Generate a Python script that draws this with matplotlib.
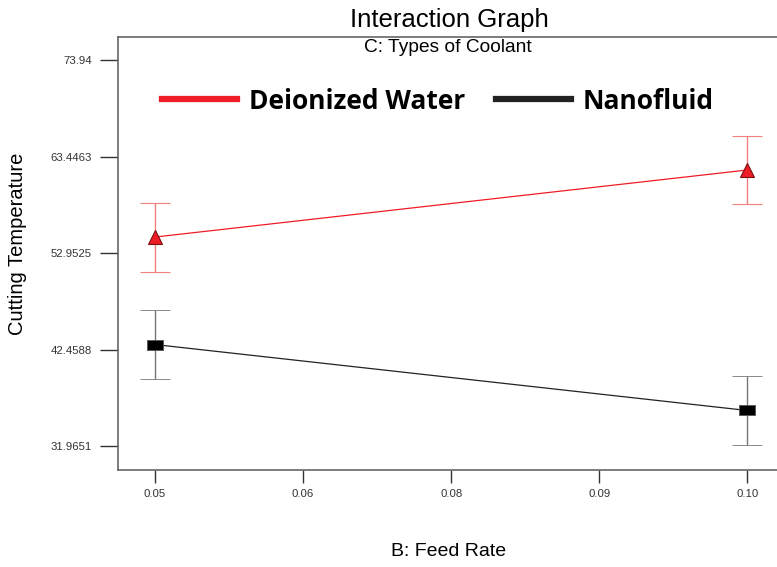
import numpy as np
import matplotlib.pyplot as plt
from matplotlib.lines import Line2D

# Feed rate levels (shown as evenly spaced categories on the axis)
feed_labels = ["0.05", "0.06", "0.08", "0.09", "0.10"]
yticks = [31.9651, 42.4588, 52.9525, 63.4463, 73.94]

# Interaction points (only the two end levels are plotted)
x_idx = [0, 4]
water_mean = [54.69, 61.98]
water_err = [3.75, 3.75]
nano_mean = [43.00, 35.83]
nano_err = [3.72, 3.72]

plt.rcParams['font.family'] = ['Liberation Sans', 'DejaVu Sans']

fig = plt.figure(figsize=(7.77, 5.67), dpi=100)
ax = fig.add_axes([118 / 777, 1 - 470 / 567, 1 - 118 / 777, (470 - 37) / 567])

red = '#ee1c25'
rect = [(-1, -0.6), (1, -0.6), (1, 0.6), (-1, 0.6), (-1, -0.6)]
ax.errorbar(x_idx, water_mean, yerr=water_err, color=red, ecolor='#f08080',
            lw=0.9, elinewidth=1.0, capsize=10.5, capthick=1.0,
            marker='^', ms=10, mfc=red, mec='#7a1010', mew=0.8, zorder=3)
ax.errorbar(x_idx, nano_mean, yerr=nano_err, color='#222222', ecolor='#777777',
            lw=0.9, elinewidth=1.0, capsize=10.5, capthick=1.0,
            marker=rect, ms=11, mfc='black', mec='#555555', mew=0.6, zorder=3)

ax.set_xlim(-0.25, 4.2)
ax.set_ylim(29.36, 76.44)
ax.set_xticks(range(len(feed_labels)))
ax.set_xticklabels(feed_labels)
ax.set_yticks(yticks)
ax.set_yticklabels([f"{v:g}" for v in yticks])
ax.tick_params(axis='y', labelsize=8.2, colors='#333333', length=13, width=1,
               direction='out', pad=6)
ax.tick_params(axis='x', labelsize=8.2, colors='#333333', length=9, width=1,
               direction='out', pad=5)

for s in ['left', 'bottom', 'top']:
    ax.spines[s].set_color('#666666')
    ax.spines[s].set_linewidth(1.2)
ax.spines['right'].set_visible(False)

fig.text(449 / 777, 1 - 20 / 567, "Interaction Graph", ha='center', va='center', fontsize=18.5)
ax.text(0.5, 1 - 10 / 433, "C: Types of Coolant", transform=ax.transAxes,
        ha='center', va='center', fontsize=13.8)
fig.text(18 / 777, 1 - 244 / 567, "Cutting Temperature", rotation=90,
         ha='center', va='center', fontsize=14.5)
fig.text(449 / 777, 1 - 552 / 567, "B: Feed Rate", ha='center', va='center', fontsize=14)

handles = [Line2D([], [], color=red, lw=4.5), Line2D([], [], color='#222222', lw=4.5)]
ax.legend(handles, ["Deionized Water", "Nanofluid"], ncol=2, frameon=False,
          loc='center left', bbox_to_anchor=(44 / 659, 0.852), borderpad=0,
          borderaxespad=0, handlelength=2.85, handletextpad=0.45, columnspacing=1.15,
          prop={'family': ['Open Sans', 'DejaVu Sans'], 'weight': 'bold', 'size': 19})

fig.savefig("out.png", dpi=100)
